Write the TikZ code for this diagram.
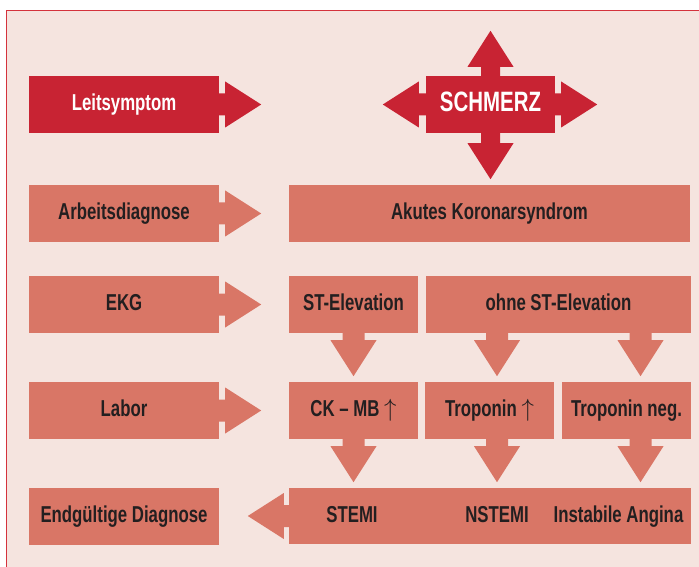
\documentclass[tikz,border=0pt]{standalone}
\usepackage{fontspec}
\newfontfamily\dinfont{Liberation Sans}[FakeStretch=0.73]

% Block arrow: [stem half width]{colour}{start point}{angle}{stem length}
\newcommand{\blockarrow}[5][11]{%
    \fill[#2, shift={(#3)}, rotate=#4]
        (0,#1) -- (#5,#1) -- (#5,23) -- ({#5+36},0) -- (#5,-23) -- (#5,-#1) -- (0,-#1) -- cycle;}

\begin{document}
\begin{tikzpicture}[x=1pt, y=1pt,
    boxtext/.style={text=textColour, inner sep=0pt, text height=16.5pt, text depth=4pt,
        font=\dinfont\bfseries\fontsize{23}{26}\selectfont},
    stepbox/.style={boxtext, fill=salmon, minimum height=57pt},
    leftbox/.style={stepbox, minimum width=190pt},
    redbox/.style={stepbox, fill=darkRed, text=white}]

    \definecolor{frameColour}{HTML}{D4323D}
    \definecolor{bgColour}{HTML}{F5E4DF}
    \definecolor{darkRed}{HTML}{C82333}
    \definecolor{salmon}{HTML}{D97666}
    \definecolor{textColour}{HTML}{231F20}

    % Canvas and frame
    \useasboundingbox (0,0) rectangle (699,566);
    \clip (0,0) rectangle (699,566);
    \draw[draw=frameColour, fill=bgColour, line width=1.1pt] (6.5,555.5) rectangle (720,-20);

    % Left column
    \node[leftbox, redbox] (lead) at (124,461.5) {Leitsymptom};
    \node[leftbox] (work) at (124,352.5) {Arbeitsdiagnose};
    \node[leftbox] (ekg) at (124,261.5) {EKG};
    \node[leftbox] (lab) at (124,155.5) {Labor};
    \node[leftbox] (final) at (124,50) {Endgültige Diagnose};

    % Right side
    \node[redbox, minimum width=129pt, text height=20pt, text depth=6pt,
        font=\dinfont\bfseries\fontsize{28}{32}\selectfont] (pain) at (490.5,461.5) {SCHMERZ};
    \node[stepbox, minimum width=401pt] (acs) at (489.5,352.5) {Akutes Koronarsyndrom};
    \node[stepbox, minimum width=129pt] (stelev) at (353.5,261.5) {ST-Elevation};
    \node[stepbox, minimum width=265pt] (nostelev) at (558.5,261.5) {ohne ST-Elevation};
    \node[stepbox, minimum width=129pt] (ckmb) at (353.5,155.5) {CK – MB $\uparrow$};
    \node[stepbox, minimum width=129pt] (tropup) at (489.5,155.5) {Troponin $\uparrow$};
    \node[stepbox, minimum width=129pt] (tropneg) at (626.5,155.5) {Troponin neg.};
    \node[stepbox, minimum width=402pt, minimum height=56pt] (result) at (490,50) {};
    \node[boxtext] (stemi) at (352,50) {STEMI};
    \node[boxtext] (nstemi) at (497,50) {NSTEMI};
    \node[boxtext] (angina) at (618.5,50) {Instabile Angina};

    % Arrow columns
    \coordinate (colB) at (497,0);
    \coordinate (colC) at (640.5,0);

    % Arrows from the left column
    \blockarrow{darkRed}{lead.east}{0}{6}
    \foreach \n in {work,ekg,lab}
        {\blockarrow{salmon}{\n.east}{0}{6}}
    \blockarrow{salmon}{result.west}{180}{5}

    % Arrows round SCHMERZ
    \blockarrow{darkRed}{pain.west}{180}{7}
    \blockarrow{darkRed}{pain.east}{0}{6}
    \blockarrow[9.5]{darkRed}{pain.north}{90}{9}
    \blockarrow[9.5]{darkRed}{pain.south}{-90}{10}

    % Downward arrows
    \blockarrow{salmon}{stelev.south}{-90}{7}
    \blockarrow{salmon}{nostelev.south -| colB}{-90}{7}
    \blockarrow{salmon}{nostelev.south -| colC}{-90}{7}
    \blockarrow{salmon}{ckmb.south}{-90}{7}
    \blockarrow{salmon}{tropup.south -| colB}{-90}{7}
    \blockarrow{salmon}{tropneg.south -| colC}{-90}{7}

\end{tikzpicture}
\end{document}
